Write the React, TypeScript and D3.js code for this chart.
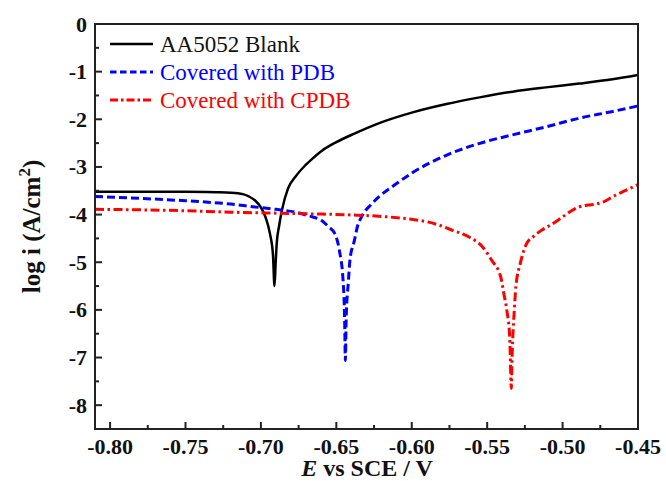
import React from "react";
import * as d3 from "d3";

const blackX = [-0.81, -0.78, -0.75, -0.73, -0.72, -0.712, -0.708, -0.704, -0.7, -0.697, -0.694, -0.692, -0.691, -0.6902, -0.6895, -0.688, -0.686, -0.682, -0.677, -0.671, -0.666, -0.66, -0.65, -0.638, -0.6215, -0.6, -0.577, -0.555, -0.533, -0.511, -0.489, -0.467, -0.45];
const blackY = [-3.52, -3.52, -3.52, -3.53, -3.54, -3.57, -3.62, -3.7, -3.85, -4.05, -4.4, -4.85, -5.5, -5.0, -4.6, -4.25, -3.9, -3.45, -3.2, -2.98, -2.83, -2.67, -2.48, -2.3, -2.08, -1.86, -1.68, -1.54, -1.42, -1.33, -1.25, -1.16, -1.07];

const blueX = [-0.81, -0.78, -0.75, -0.72, -0.704, -0.69, -0.677, -0.668, -0.66, -0.655, -0.651, -0.648, -0.6455, -0.6445, -0.644, -0.6435, -0.642, -0.641, -0.638, -0.636, -0.633, -0.627, -0.6215, -0.611, -0.6, -0.5775, -0.5555, -0.5337, -0.5112, -0.4894, -0.4675, -0.45];
const blueY = [-3.62, -3.66, -3.71, -3.78, -3.84, -3.89, -3.95, -4.03, -4.12, -4.26, -4.4, -4.75, -5.4, -6.2, -7.06, -6.2, -5.4, -4.96, -4.54, -4.25, -4.03, -3.79, -3.62, -3.37, -3.13, -2.76, -2.51, -2.33, -2.16, -1.98, -1.84, -1.72];

const redX = [-0.81, -0.78, -0.75, -0.72, -0.69, -0.66, -0.638, -0.615, -0.6, -0.59, -0.582, -0.573, -0.562, -0.553, -0.547, -0.541, -0.539, -0.537, -0.535, -0.534, -0.5335, -0.533, -0.532, -0.531, -0.528, -0.524, -0.519, -0.514, -0.507, -0.5, -0.494, -0.489, -0.483, -0.478, -0.472, -0.467, -0.46, -0.452, -0.45];
const redY = [-3.89, -3.9, -3.92, -3.95, -3.97, -3.99, -4.01, -4.05, -4.1, -4.15, -4.22, -4.33, -4.47, -4.68, -4.96, -5.31, -5.65, -6.0, -6.6, -7.65, -7.0, -6.57, -6.0, -5.52, -5.02, -4.62, -4.45, -4.33, -4.2, -4.05, -3.92, -3.84, -3.8, -3.78, -3.72, -3.63, -3.52, -3.4, -3.37];

const xTicks = [-0.8, -0.75, -0.7, -0.65, -0.6, -0.55, -0.5, -0.45];
const xMinor = [-0.775, -0.725, -0.675, -0.625, -0.575, -0.525, -0.475];
const yTicks = [0, -1, -2, -3, -4, -5, -6, -7, -8];
const yMinor = [-0.5, -1.5, -2.5, -3.5, -4.5, -5.5, -6.5, -7.5];

const seriesNames = ["AA5052 Blank", "Covered with PDB", "Covered with CPDB"];
const seriesColors = ["#000000", "#0000ff", "#ff0000"];
const seriesDash = ["none", "8,4", "9,3.5,2.5,3.5"];
const legendDash = ["none", "6.5,3.5", "8,3,2.5,3"];

const W = 666, H = 481;
const L = 95, R = 638, T = 24, B = 429;
const FONT = "'Liberation Serif', 'Times New Roman', Times, serif";

export default function App() {
  const x = d3.scaleLinear().domain([-0.81, -0.45]).range([L, R]);
  const y = d3.scaleLinear().domain([-8.5, 0]).range([B, T]);
  const line = d3.line<[number, number]>().x(d => x(d[0])).y(d => y(d[1])).curve(d3.curveMonotoneX);
  const data: [number, number][][] = [
    blackX.map((v, i) => [v, blackY[i]]),
    blueX.map((v, i) => [v, blueY[i]]),
    redX.map((v, i) => [v, redY[i]]),
  ];
  const widths = [2.5, 3, 3];
  return (
    <svg width={W} height={H} style={{ position: "absolute", left: 0, top: 0, background: "#fff", fontFamily: FONT }}>
      <rect x={0} y={0} width={W} height={H} fill="#fff" />
      <defs>
        <clipPath id="plotclip"><rect x={L} y={T} width={R - L} height={B - T} /></clipPath>
      </defs>
      <g clipPath="url(#plotclip)">
        {data.map((d, i) => (
          <path key={i} d={line(d) || ""} fill="none" stroke={seriesColors[i]} strokeWidth={widths[i]}
            strokeDasharray={seriesDash[i]} strokeLinejoin="round" />
        ))}
      </g>
      {xTicks.map(t => (
        <g key={"xt" + t}>
          <line x1={x(t)} x2={x(t)} y1={B} y2={B - 7} stroke="#222" strokeWidth={2} />
          <text x={x(t)} y={454} textAnchor="middle" fontSize={22} fontWeight="bold" fill="#111">{t.toFixed(2)}</text>
        </g>
      ))}
      {xMinor.map(t => (
        <line key={"xm" + t} x1={x(t)} x2={x(t)} y1={B} y2={B - 4} stroke="#222" strokeWidth={2} />
      ))}
      {yTicks.map(t => (
        <g key={"yt" + t}>
          <line x1={L} x2={L + 7} y1={y(t)} y2={y(t)} stroke="#222" strokeWidth={2} />
          <text x={87} y={y(t) + 7.5} textAnchor="end" fontSize={22} fontWeight="bold" fill="#111">{String(t)}</text>
        </g>
      ))}
      {yMinor.map(t => (
        <line key={"ym" + t} x1={L} x2={L + 4} y1={y(t)} y2={y(t)} stroke="#222" strokeWidth={2} />
      ))}
      <rect x={L} y={T} width={R - L} height={B - T} fill="none" stroke="#222" strokeWidth={2} />
      {seriesNames.map((n, i) => (
        <g key={n}>
          <line x1={110} x2={153} y1={44 + i * 28} y2={44 + i * 28} stroke={seriesColors[i]} strokeWidth={widths[i]}
            strokeDasharray={legendDash[i] === "none" ? undefined : legendDash[i]} />
          <text x={160} y={44 + i * 28 + 8} fontSize={23} fill={i === 0 ? "#111" : seriesColors[i]}>{n}</text>
        </g>
      ))}
      <text x={367} y={475.5} textAnchor="middle" fontSize={24} fontWeight="bold" fill="#111">
        <tspan fontStyle="italic">E</tspan> vs SCE / V
      </text>
      <text transform={`translate(40, ${(T + B) / 2}) rotate(-90)`} textAnchor="middle" fontSize={25} fontWeight="bold" fill="#111">
        log i (A/cm<tspan dy={-10} fontSize={17}>2</tspan><tspan dy={10}>)</tspan>
      </text>
    </svg>
  );
}
